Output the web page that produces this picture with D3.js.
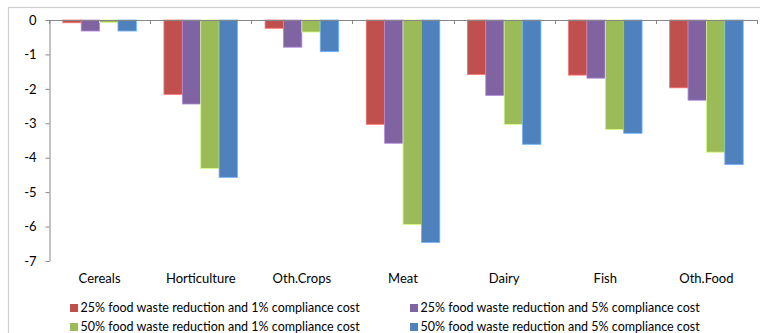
<!DOCTYPE html>
<html>
<head>
<meta charset="utf-8">
<script src="https://cdn.jsdelivr.net/npm/d3@7"></script>
<style>
  html, body { margin: 0; padding: 0; background: #fff; }
  svg { display: block; }
  text { font-family: Lato, "Open Sans", sans-serif; fill: #000; }
</style>
</head>
<body>
<svg id="chart" width="760" height="333"></svg>
<script>
// Change in output by food category under the four scenarios
const categories = ["Cereals", "Horticulture", "Oth.Crops", "Meat", "Dairy", "Fish", "Oth.Food"];
const seriesNames = [
  "25% food waste reduction and 1% compliance cost",
  "25% food waste reduction and 5% compliance cost",
  "50% food waste reduction and 1% compliance cost",
  "50% food waste reduction and 5% compliance cost"
];
const red25x1   = [-0.08, -2.16, -0.24, -3.03, -1.58, -1.60, -1.97];
const purple25x5 = [-0.32, -2.44, -0.79, -3.58, -2.19, -1.69, -2.33];
const green50x1 = [-0.07, -4.31, -0.35, -5.94, -3.03, -3.18, -3.84];
const blue50x5  = [-0.32, -4.57, -0.92, -6.46, -3.61, -3.29, -4.20];
const yTicks = [0, -1, -2, -3, -4, -5, -6, -7];
const colors = ["#C0504D", "#8064A2", "#9BBB59", "#4F81BD"];

const series = [red25x1, purple25x5, green50x1, blue50x5];

const svg = d3.select("#chart");

// outer chart frame
svg.append("rect")
  .attr("x", 8.5).attr("y", 7.5)
  .attr("width", 770).attr("height", 350)
  .attr("fill", "none").attr("stroke", "#d0d0d0").attr("stroke-width", 1.2);

const plot = { left: 49, right: 757, top: 20, bottom: 261 };

const y = d3.scaleLinear().domain([0, -7]).range([plot.top, plot.bottom]);
const x = d3.scaleBand().domain(categories).range([plot.left, plot.right])
  .paddingInner(0).paddingOuter(0);
// bars fill 4 of (4 + 1.5) slots inside each category
const groupW = x.bandwidth() * 4 / 5.5;
const xs = d3.scaleBand().domain(d3.range(4))
  .range([(x.bandwidth() - groupW) / 2, (x.bandwidth() + groupW) / 2]);

// bars
series.forEach((vals, si) => {
  const c = d3.color(colors[si]);
  svg.append("g").selectAll("rect")
    .data(vals)
    .join("rect")
    .attr("x", (d, i) => x(categories[i]) + xs(si))
    .attr("y", d => y(Math.max(0, d)))
    .attr("width", xs.bandwidth())
    .attr("height", d => Math.abs(y(d) - y(0)))
    .attr("fill", colors[si])
    .attr("stroke", c.brighter(0.9).formatHex())
    .attr("stroke-width", 0.8);
});

// y axis
const yAxis = d3.axisLeft(y).tickValues(yTicks).tickSize(4).tickSizeOuter(0)
  .tickFormat(d => d === 0 ? "0" : d3.format("d")(d).replace("−", "-"));
const gy = svg.append("g").attr("transform", `translate(${plot.left + 0.5},0)`).call(yAxis);
gy.select(".domain").attr("stroke", "#868686");
gy.selectAll(".tick line").attr("stroke", "#868686");
gy.selectAll(".tick text").attr("x", -13).style("font-size", "13px")
  .style("font-family", "Lato, 'Open Sans', sans-serif");

// x axis line at zero with category boundary ticks
const boundaries = categories.map(c => x(c)).concat([plot.right]);
svg.append("line")
  .attr("x1", plot.left).attr("x2", plot.right)
  .attr("y1", y(0) + 0.5).attr("y2", y(0) + 0.5)
  .attr("stroke", "#868686");
svg.append("g").selectAll("line")
  .data(boundaries)
  .join("line")
  .attr("x1", d => Math.round(d) + 0.5).attr("x2", d => Math.round(d) + 0.5)
  .attr("y1", y(0)).attr("y2", y(0) + 4)
  .attr("stroke", "#868686");

// category labels
svg.append("g").selectAll("text")
  .data(categories)
  .join("text")
  .attr("x", d => x(d) + x.bandwidth() / 2)
  .attr("y", 283)
  .attr("text-anchor", "middle")
  .style("font-size", "13px")
  .text(d => d);

// legend, two columns by two rows
const legendPos = [
  { x: 70, y: 308 }, { x: 410, y: 308 },
  { x: 70, y: 327 }, { x: 410, y: 327 }
];
const lg = svg.append("g").selectAll("g")
  .data(seriesNames)
  .join("g")
  .attr("transform", (d, i) => `translate(${legendPos[i].x},${legendPos[i].y})`);
lg.append("rect")
  .attr("x", 0).attr("y", -4).attr("width", 8).attr("height", 8)
  .attr("fill", (d, i) => colors[i]);
lg.append("text")
  .attr("x", 10.5).attr("y", 4.3)
  .style("font-size", "12.5px")
  .text(d => d);
</script>
</body>
</html>
